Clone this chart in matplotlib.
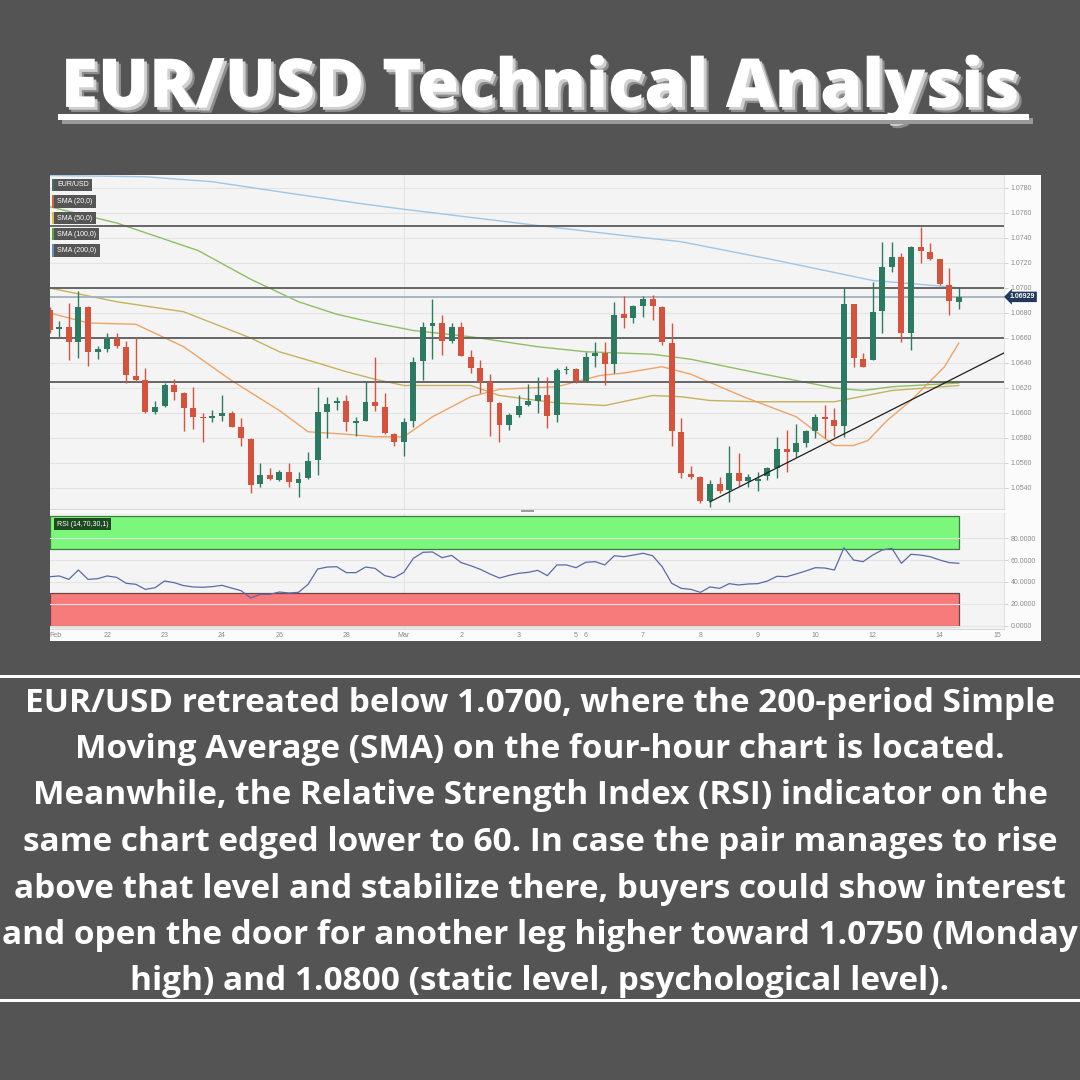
import matplotlib
matplotlib.use("Agg")
import matplotlib.pyplot as plt
import matplotlib.patheffects as pe
import matplotlib.transforms as mtransforms
from matplotlib.patches import Rectangle
import numpy as np

# ---------------- data ----------------
# 4-hour EUR/USD candles, Feb 21 -> Mar 14
opens = [1.06824, 1.06669, 1.06691, 1.06571, 1.06851, 1.06488, 1.06512, 1.06589, 1.06531, 1.06299,
         1.06264, 1.06011, 1.06056, 1.06224, 1.06163, 1.06037, 1.05968, 1.05957, 1.05979, 1.05997,
         1.05891, 1.05792, 1.05429, 1.05501, 1.05464, 1.05531, 1.05443, 1.05477, 1.05624, 1.06011,
         1.06077, 1.06096, 1.05923, 1.05939, 1.06088, 1.06051, 1.05832, 1.05771, 1.05939, 1.06416,
         1.06699, 1.06717, 1.06579, 1.06685, 1.06451, 1.06357, 1.06245, 1.06083, 1.05907, 1.05984,
         1.06064, 1.06099, 1.06144, 1.05984, 1.06347, 1.06352, 1.06259, 1.06459, 1.06483, 1.06392,
         1.06789, 1.06757, 1.06859, 1.06912, 1.06851, 1.06563, 1.05851, 1.05512, 1.05485, 1.05296,
         1.05429, 1.05384, 1.05523, 1.05456, 1.05456, 1.05496, 1.05563, 1.05709, 1.05685, 1.05757,
         1.05856, 1.05965, 1.05944, 1.05896, 1.06869, 1.06432, 1.06424, 1.06816, 1.07171, 1.07251,
         1.06637, 1.07331, 1.07291, 1.07229, 1.07024, 1.06888]
highs = [1.06850, 1.06739, 1.06883, 1.06979, 1.06860, 1.06536, 1.06637, 1.06637, 1.06576, 1.06605,
         1.06357, 1.06099, 1.06237, 1.06269, 1.06170, 1.06211, 1.06003, 1.06024, 1.06141, 1.06016,
         1.05957, 1.05800, 1.05597, 1.05557, 1.05544, 1.05597, 1.05525, 1.05691, 1.06205, 1.06131,
         1.06131, 1.06144, 1.05971, 1.06259, 1.06451, 1.06163, 1.05840, 1.05957, 1.06445, 1.06731,
         1.06912, 1.06784, 1.06723, 1.06725, 1.06504, 1.06424, 1.06309, 1.06090, 1.05997, 1.06144,
         1.06232, 1.06291, 1.06291, 1.06357, 1.06376, 1.06357, 1.06491, 1.06568, 1.06571, 1.06891,
         1.06939, 1.06864, 1.06939, 1.06944, 1.06858, 1.06717, 1.05957, 1.05579, 1.05496, 1.05464,
         1.05485, 1.05736, 1.05677, 1.05512, 1.05531, 1.05571, 1.05811, 1.05864, 1.05912, 1.05860,
         1.05992, 1.06064, 1.06037, 1.06997, 1.06875, 1.06483, 1.07051, 1.07371, 1.07371, 1.07277,
         1.07340, 1.07491, 1.07357, 1.07235, 1.07157, 1.07005]
lows = [1.06640, 1.06605, 1.06424, 1.06437, 1.06376, 1.06429, 1.06491, 1.06517, 1.06237, 1.06251,
        1.05997, 1.05992, 1.06051, 1.06104, 1.05859, 1.05872, 1.05771, 1.05931, 1.05939, 1.05885,
        1.05739, 1.05363, 1.05405, 1.05465, 1.05459, 1.05405, 1.05331, 1.05470, 1.05504, 1.05797,
        1.06024, 1.05859, 1.05816, 1.05935, 1.06019, 1.05830, 1.05739, 1.05659, 1.05891, 1.06264,
        1.06432, 1.06464, 1.06557, 1.06456, 1.06317, 1.06157, 1.05819, 1.05765, 1.05864, 1.05965,
        1.06059, 1.05997, 1.05883, 1.05931, 1.06312, 1.06237, 1.06251, 1.06371, 1.06224, 1.06317,
        1.06683, 1.06723, 1.06765, 1.06744, 1.06544, 1.05739, 1.05477, 1.05469, 1.05283, 1.05251,
        1.05357, 1.05291, 1.05416, 1.05405, 1.05379, 1.05464, 1.05477, 1.05531, 1.05651, 1.05731,
        1.05797, 1.05797, 1.05811, 1.05811, 1.06371, 1.06365, 1.06420, 1.06637, 1.07131, 1.06571,
        1.06504, 1.07203, 1.07224, 1.07025, 1.06784, 1.06829]
closes = [1.06664, 1.06691, 1.06571, 1.06851, 1.06485, 1.06509, 1.06589, 1.06539, 1.06304, 1.06264,
          1.06005, 1.06051, 1.06221, 1.06165, 1.06037, 1.05965, 1.05957, 1.05976, 1.05997, 1.05891,
          1.05797, 1.05424, 1.05504, 1.05472, 1.05531, 1.05445, 1.05472, 1.05616, 1.06005, 1.06069,
          1.06096, 1.05925, 1.05933, 1.06088, 1.06056, 1.05837, 1.05771, 1.05931, 1.06411, 1.06691,
          1.06717, 1.06573, 1.06685, 1.06459, 1.06363, 1.06251, 1.06085, 1.05907, 1.05984, 1.06059,
          1.06096, 1.06144, 1.05979, 1.06344, 1.06350, 1.06259, 1.06451, 1.06477, 1.06392, 1.06784,
          1.06763, 1.06856, 1.06909, 1.06856, 1.06565, 1.05859, 1.05517, 1.05491, 1.05296, 1.05432,
          1.05379, 1.05523, 1.05459, 1.05491, 1.05469, 1.05557, 1.05709, 1.05685, 1.05757, 1.05856,
          1.05965, 1.05949, 1.05896, 1.06869, 1.06437, 1.06371, 1.06805, 1.07171, 1.07251, 1.06643,
          1.07331, 1.07296, 1.07229, 1.07029, 1.06899, 1.06929]

# Simple moving averages (bar position, value)
sma20_x = [0, 4, 9, 14, 19, 24, 27, 31, 34, 37, 40, 44, 47, 53, 55, 57.5, 60, 64, 67, 72.5,
           78, 82, 84, 85.5, 87.5, 90, 93.5, 95]
sma20_y = [1.0680, 1.0672, 1.0671, 1.0653, 1.0626, 1.0602, 1.0585, 1.0583, 1.0581, 1.0581,
           1.0597, 1.0613, 1.0619, 1.0621, 1.0625, 1.0630, 1.0632, 1.0637, 1.0631, 1.0613,
           1.0597, 1.0574, 1.0574, 1.0578, 1.0594, 1.0610, 1.0637, 1.0656]
sma50_x = [0, 7, 14, 17, 21, 24, 28, 31, 34, 37, 44, 47, 53, 58, 63, 66, 69, 74, 82, 84, 88, 95]
sma50_y = [1.0700, 1.0689, 1.0681, 1.0672, 1.0660, 1.0649, 1.0640, 1.0633, 1.0627, 1.0622,
           1.0622, 1.0614, 1.0608, 1.0606, 1.0614, 1.0613, 1.0610, 1.0609, 1.0609, 1.0612,
           1.0618, 1.0622]
sma100_x = [0, 7, 15.5, 21, 26, 30, 34, 38, 44, 51, 56, 63, 67, 74, 82, 85, 88, 95]
sma100_y = [1.0765, 1.0752, 1.0730, 1.0707, 1.0689, 1.0679, 1.0672, 1.0666, 1.0661, 1.0653,
            1.0649, 1.0647, 1.0643, 1.0632, 1.0620, 1.0618, 1.0621, 1.0624]
sma200_x = [0, 10, 17, 24, 33, 37, 51, 60, 66, 76, 86, 94, 95]
sma200_y = [1.0790, 1.0789, 1.0785, 1.0777, 1.0767, 1.0763, 1.0750, 1.0742, 1.0737, 1.0722,
            1.0706, 1.0701, 1.0700]

# RSI(14) per bar
rsi = [44.8, 45.5, 42.4, 50.9, 42.4, 43.0, 45.5, 44.2, 38.8, 37.9,
       33.3, 34.8, 40.9, 39.4, 36.7, 35.5, 35.2, 35.8, 37.0, 34.5,
       32.1, 25.5, 28.8, 28.8, 30.9, 30.0, 30.6, 37.9, 51.8, 53.6,
       53.9, 48.5, 48.5, 53.6, 52.4, 45.8, 43.9, 48.8, 61.5, 67.0,
       67.3, 62.1, 64.2, 57.6, 54.8, 51.5, 47.3, 43.6, 46.0, 47.9,
       48.8, 50.6, 45.8, 55.5, 55.5, 53.0, 57.9, 58.5, 55.5, 63.9,
       63.0, 64.5, 66.1, 63.9, 53.9, 38.8, 34.2, 33.3, 30.6, 35.5,
       34.2, 38.5, 37.3, 38.2, 38.5, 40.9, 45.2, 44.8, 47.3, 50.0,
       53.0, 52.7, 50.9, 71.2, 60.0, 58.5, 64.5, 69.1, 70.6, 57.0,
       65.2, 64.5, 63.0, 60.0, 57.6, 57.0]

# Support / resistance levels and trend line
levels = [1.0750, 1.0700, 1.0660, 1.0625]
last_price = 1.06929
trend_x = [69, 99.7]
trend_y = [1.0529, 1.0648]

# Axis ticks
price_ticks = [1.0540, 1.0560, 1.0580, 1.0600, 1.0620, 1.0640, 1.0660,
               1.0680, 1.0700, 1.0720, 1.0740, 1.0760, 1.0780]
rsi_ticks = [0, 20, 40, 60, 80]
day_pos = [0.6, 6, 12, 18, 24, 31, 37, 43, 49, 55, 56, 62, 68, 74, 80, 86, 93, 99]
day_labels = ["Feb", "22", "23", "24", "26", "28", "Mar", "2", "3", "5", "6",
              "7", "8", "9", "10", "12", "14", "15"]
month_start = 37

title_text = "EUR/USD Technical Analysis"
body_lines = [
    "EUR/USD retreated below 1.0700, where the 200-period Simple",
    "Moving Average (SMA) on the four-hour chart is located.",
    "Meanwhile, the Relative Strength Index (RSI) indicator on the",
    "same chart edged lower to 60. In case the pair manages to rise",
    "above that level and stabilize there, buyers could show interest",
    "and open the door for another leg higher toward 1.0750 (Monday",
    "high) and 1.0800 (static level, psychological level).",
]

# ---------------- layout helpers ----------------
W = H = 1080
BG = "#545454"
UP = "#2c7a61"
DOWN = "#d5533d"
UI_FONT = ["Liberation Sans", "DejaVu Sans"]

fig = plt.figure(figsize=(10.8, 10.8), dpi=100, facecolor=BG)


def fx(x):
    return x / W


def fy(y):
    return 1 - y / H


def fbox(x0, y0, x1, y1):
    return [x0 / W, 1 - y1 / H, (x1 - x0) / W, (y1 - y0) / H]


def frect(x0, y0, x1, y1, **kw):
    r = Rectangle((fx(x0), fy(y1)), (x1 - x0) / W, (y1 - y0) / H,
                  transform=fig.transFigure, **kw)
    fig.patches.append(r)
    return r


# chart canvas
frect(50, 175, 1041, 641, facecolor="#fbfbfb", edgecolor="none", zorder=-5)

# ---------------- price panel ----------------
ax = fig.add_axes(fbox(50, 175, 1004, 509))
ax.set_facecolor("#f4f4f4")
ax.set_xlim(0.03, 99.72)
ax.set_ylim(1.05232, 1.07904)
for s in ["top", "left"]:
    ax.spines[s].set_visible(False)
ax.spines["right"].set_color("#e2e2e2")
ax.spines["bottom"].set_color("#d8d8d8")
ax.set_yticks(price_ticks)
ax.set_yticklabels([f"{v:.4f}" for v in price_ticks])
ax.yaxis.tick_right()
ax.tick_params(axis="y", labelsize=5, labelcolor="#8a8a8a", color="#c8c8c8",
               length=3, width=0.6, pad=2)
for lab in ax.get_yticklabels():
    lab.set_family(UI_FONT)
ax.set_xticks([])
ax.grid(axis="y", color="#e3e3e3", lw=0.8, zorder=0)
ax.axvline(month_start, color="#e3e3e3", lw=0.8, zorder=0)

# moving averages
ax.plot(sma200_x, sma200_y, color="#9ec6e6", lw=1.0, zorder=2)
ax.plot(sma100_x, sma100_y, color="#8dbf62", lw=1.0, zorder=2)
ax.plot(sma50_x, sma50_y, color="#c6b25c", lw=1.0, zorder=2)
ax.plot(sma20_x, sma20_y, color="#eea468", lw=1.0, zorder=2)

# horizontal levels
for lvl in levels:
    ax.axhline(lvl, color="#5b5b5b", lw=1.3, zorder=2.5)
ax.axhline(last_price, color="#a2b0bf", lw=1.3, zorder=2.5)

# candles
idx = np.arange(len(opens))
for k, o, h, l, c in zip(idx, opens, highs, lows, closes):
    col = UP if c >= o else DOWN
    ax.vlines(k, l, h, color=col, lw=1.0, zorder=3)
    ax.bar(k, max(abs(c - o), 0.00008), bottom=min(o, c), width=0.62,
           color=col, lw=0, zorder=4)

# trend line
ax.plot(trend_x, trend_y, color="#1e1e1e", lw=0.9, zorder=5)

# last price tag
trans = mtransforms.blended_transform_factory(ax.transAxes, ax.transData)
ax.text(1.006, last_price, f"{last_price:.5f}", transform=trans, ha="left", va="center",
        fontsize=5, color="white", fontweight="bold", family=UI_FONT, clip_on=False,
        bbox=dict(boxstyle="larrow,pad=0.25", fc="#22385a", ec="none"), zorder=10)

# legend tags
tags = [("EUR/USD", "#4d6b6b", 179, 191, 92),
        ("SMA (20,0)", "#d0643a", 195, 208, 96),
        ("SMA (50,0)", "#d9bf48", 212, 224, 96),
        ("SMA (100,0)", "#5aa53c", 228, 240, 99),
        ("SMA (200,0)", "#5d8fc4", 244, 257, 100)]
for label, strip, y0, y1, x1 in tags:
    frect(52, y0, x1, y1, facecolor="#555555", edgecolor="none", zorder=20)
    frect(52, y0, 54, y1, facecolor=strip, edgecolor="none", zorder=21)
    fig.text(fx(57), fy((y0 + y1) / 2), label, fontsize=5, color="white",
             family=UI_FONT, ha="left", va="center", zorder=22)

# ---------------- RSI panel ----------------
rax = fig.add_axes(fbox(50, 513, 1004, 629))
rax.set_facecolor("#f4f4f4")
rax.set_xlim(0.03, 99.72)
rax.set_ylim(-2.73, 102.73)
for s in ["top", "left"]:
    rax.spines[s].set_visible(False)
rax.spines["right"].set_color("#e2e2e2")
rax.spines["bottom"].set_color("#d8d8d8")
rax.set_yticks(rsi_ticks)
rax.set_yticklabels([f"{v:.4f}" for v in rsi_ticks])
rax.yaxis.tick_right()
rax.tick_params(axis="y", labelsize=5, labelcolor="#8a8a8a", color="#c8c8c8",
                length=3, width=0.6, pad=2)
rax.grid(axis="y", color="#e3e3e3", lw=0.8, zorder=0)
rax.axvline(month_start, color="#e3e3e3", lw=0.8, zorder=0)
rax.set_xticks(day_pos)
rax.set_xticklabels(day_labels)
rax.tick_params(axis="x", labelsize=5, labelcolor="#8a8a8a", length=0, pad=2.5)
for lab in rax.get_yticklabels() + rax.get_xticklabels():
    lab.set_family(UI_FONT)

x_end = idx[-1]
rax.add_patch(Rectangle((0.03, 70), x_end - 0.03, 30, facecolor="#7bf77b",
                        edgecolor="#3d7a3d", lw=0.9, zorder=1))
rax.add_patch(Rectangle((0.03, 0), x_end - 0.03, 30, facecolor="#f87b7b",
                        edgecolor="#6e4848", lw=0.9, zorder=1))
rax.plot(idx, rsi, color="#5a6aa8", lw=0.9, zorder=3)

frect(54, 518, 111, 530, facecolor="#1f4a1f", edgecolor="none", zorder=20)
fig.text(fx(57), fy(524), "RSI (14,70,30,1)", fontsize=5, color="white",
         family=UI_FONT, ha="left", va="center", zorder=22)

# panel resize handle
for yy in (509.6, 511.4):
    fig.add_artist(plt.Line2D([fx(521), fx(533)], [fy(yy), fy(yy)], color="#9a9a9a",
                              lw=0.7, transform=fig.transFigure))

# ---------------- title ----------------
fig.canvas.draw()
renderer = fig.canvas.get_renderer()

title = fig.text(0.5, fy(107), title_text, ha="center", va="baseline",
                 fontsize=46, fontweight="heavy", family="Open Sans", color="white")
tw = title.get_window_extent(renderer).width
title.set_fontsize(46 * 958 / tw)
title.set_path_effects([
    pe.SimplePatchShadow(offset=(3.6, -3.6), shadow_rgbFace="#8c8c8c", alpha=1.0),
    pe.SimplePatchShadow(offset=(2.0, -2.0), shadow_rgbFace="#cfcfcf", alpha=1.0),
    pe.Normal(),
])
ext = title.get_window_extent(renderer)
ul_x0 = ext.x0 - 3
ul_x1 = ext.x1 + 10
frect(ul_x0 + 4, 118, ul_x1 + 4, 124, facecolor="#9a9a9a", edgecolor="none", zorder=5)
frect(ul_x0, 114, ul_x1, 119.5, facecolor="white", edgecolor="none", zorder=6)

# ---------------- commentary ----------------
frect(0, 674.5, 1080, 678, facecolor="white", edgecolor="none")
frect(0, 998.5, 1080, 1002, facecolor="white", edgecolor="none")

widest = 0
for line in body_lines:
    probe = fig.text(0.5, 0.5, line, fontsize=22, fontweight="bold", family="Open Sans")
    widest = max(widest, probe.get_window_extent(renderer).width)
    probe.remove()
body_size = 22 * 1072 / widest

baselines = [711.5, 758, 804.5, 851, 897.5, 944, 990]
for line, yb in zip(body_lines, baselines):
    fig.text(0.5, fy(yb), line, ha="center", va="baseline", fontsize=body_size,
             fontweight="bold", family="Open Sans", color="white")

fig.savefig("out.png", dpi=100, facecolor=BG)
